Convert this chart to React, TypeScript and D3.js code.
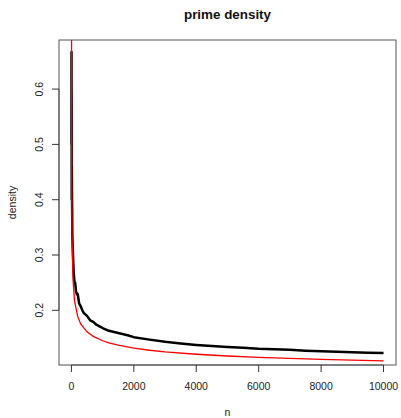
import { useRef, useEffect } from "react";
import * as d3 from "d3";

// black: observed prime density pi(n)/n
const primeN = [2, 3, 4, 5, 7, 9, 10, 13, 20, 30, 50, 70, 100, 120, 150, 175, 200, 250, 300, 350, 400, 500, 600, 700, 800, 900, 1000, 1200, 1500, 1800, 2000, 2500, 3000, 3500, 4000, 4500, 5000, 5500, 6000, 6500, 7000, 7500, 8000, 8500, 9000, 9500, 10000];
const primeDensity = [0.5, 0.667, 0.5, 0.6, 0.571, 0.444, 0.4, 0.462, 0.4, 0.333, 0.3, 0.271, 0.25, 0.25, 0.233, 0.229, 0.23, 0.212, 0.207, 0.2, 0.195, 0.19, 0.182, 0.179, 0.174, 0.171, 0.168, 0.163, 0.159, 0.155, 0.1515, 0.147, 0.143, 0.14, 0.1375, 0.1356, 0.1338, 0.1322, 0.1305, 0.1295, 0.1286, 0.127, 0.1259, 0.125, 0.1241, 0.1234, 0.1229];

// red: 1 / log(n) approximation
const approxN = [2, 3, 5, 10, 20, 50, 100, 200, 300, 500, 700, 1000, 1200, 1500, 2000, 2500, 3000, 4000, 5000, 6000, 7000, 8000, 9000, 10000];
const approxDensity = [1.443, 0.91, 0.621, 0.434, 0.334, 0.256, 0.217, 0.189, 0.175, 0.161, 0.153, 0.145, 0.141, 0.137, 0.1316, 0.1278, 0.1249, 0.1206, 0.1174, 0.1149, 0.113, 0.1113, 0.1098, 0.1086];

const xTicks = [0, 2000, 4000, 6000, 8000, 10000];
const yTicks = [0.2, 0.3, 0.4, 0.5, 0.6];

export default function App() {
  const ref = useRef<SVGSVGElement>(null);

  useEffect(() => {
    const width = 401,
      height = 418;
    const margin = { top: 40, right: 5, bottom: 53, left: 59 };
    const font = "Liberation Sans, Arial, Helvetica, sans-serif";

    const svg = d3.select(ref.current);
    svg.selectAll("*").remove();

    // R-style 4% padding
    const xe = d3.extent(primeN) as [number, number];
    const ye = d3.extent(primeDensity) as [number, number];
    const px = (xe[1] - xe[0]) * 0.04,
      py = (ye[1] - ye[0]) * 0.04;
    const x = d3
      .scaleLinear()
      .domain([xe[0] - px, xe[1] + px])
      .range([margin.left, width - margin.right]);
    const y = d3
      .scaleLinear()
      .domain([ye[0] - py, ye[1] + py])
      .range([height - margin.bottom, margin.top]);

    const [x0, x1] = x.range();
    const [y0, y1] = y.range();

    svg
      .append("defs")
      .append("clipPath")
      .attr("id", "plotclip")
      .append("rect")
      .attr("x", x0)
      .attr("y", y1)
      .attr("width", x1 - x0)
      .attr("height", y0 - y1);

    const g = svg.append("g").attr("clip-path", "url(#plotclip)");
    g.append("path")
      .attr(
        "d",
        d3
          .line<number>()
          .x((d) => x(d))
          .y((d, i) => y(primeDensity[i]))(primeN)
      )
      .attr("fill", "none")
      .attr("stroke", "#000")
      .attr("stroke-width", 2.5)
      .attr("stroke-linejoin", "round");
    g.append("path")
      .attr(
        "d",
        d3
          .line<number>()
          .x((d) => x(d))
          .y((d, i) => y(approxDensity[i]))(approxN)
      )
      .attr("fill", "none")
      .attr("stroke", "#ff0000")
      .attr("stroke-width", 1.3);

    // box
    svg
      .append("rect")
      .attr("x", x0)
      .attr("y", y1)
      .attr("width", x1 - x0)
      .attr("height", y0 - y1)
      .attr("fill", "none")
      .attr("stroke", "#555");

    // x axis
    const xa = svg.append("g").attr("transform", `translate(0,${y0})`);
    xa.append("line")
      .attr("x1", x(xTicks[0]))
      .attr("x2", x(xTicks[xTicks.length - 1]))
      .attr("stroke", "#555");
    xa.selectAll("line.tick")
      .data(xTicks)
      .join("line")
      .attr("class", "tick")
      .attr("x1", (d) => x(d))
      .attr("x2", (d) => x(d))
      .attr("y2", 7)
      .attr("stroke", "#333");
    xa.selectAll("text")
      .data(xTicks)
      .join("text")
      .attr("x", (d) => x(d))
      .attr("y", 25)
      .attr("text-anchor", "middle")
      .attr("font-family", font)
      .attr("font-size", 10.5)
      .attr("fill", "#222")
      .text((d) => String(d));

    // y axis
    const ya = svg.append("g").attr("transform", `translate(${x0},0)`);
    ya.append("line")
      .attr("y1", y(yTicks[0]))
      .attr("y2", y(yTicks[yTicks.length - 1]))
      .attr("stroke", "#555");
    ya.selectAll("line.tick")
      .data(yTicks)
      .join("line")
      .attr("class", "tick")
      .attr("y1", (d) => y(d))
      .attr("y2", (d) => y(d))
      .attr("x2", -7)
      .attr("stroke", "#333");
    ya.selectAll("text")
      .data(yTicks)
      .join("text")
      .attr("transform", (d) => `translate(-16,${y(d)}) rotate(-90)`)
      .attr("text-anchor", "middle")
      .attr("font-family", font)
      .attr("font-size", 10.5)
      .attr("fill", "#222")
      .text((d) => d.toFixed(1));

    // titles
    svg
      .append("text")
      .attr("x", (x0 + x1) / 2)
      .attr("y", 19)
      .attr("text-anchor", "middle")
      .attr("font-family", font)
      .attr("font-weight", "bold")
      .attr("font-size", 13.4)
      .attr("fill", "#111")
      .text("prime density");
    svg
      .append("text")
      .attr("x", (x0 + x1) / 2)
      .attr("y", 416)
      .attr("text-anchor", "middle")
      .attr("font-family", font)
      .attr("font-size", 10.5)
      .attr("fill", "#222")
      .text("n");
    svg
      .append("text")
      .attr("transform", `translate(16,${(y0 + y1) / 2}) rotate(-90)`)
      .attr("text-anchor", "middle")
      .attr("font-family", font)
      .attr("font-size", 10.5)
      .attr("fill", "#222")
      .text("density");
  }, []);

  return (
    <svg
      ref={ref}
      width={401}
      height={418}
      style={{ position: "absolute", left: 0, top: 0, background: "#fff" }}
    />
  );
}
